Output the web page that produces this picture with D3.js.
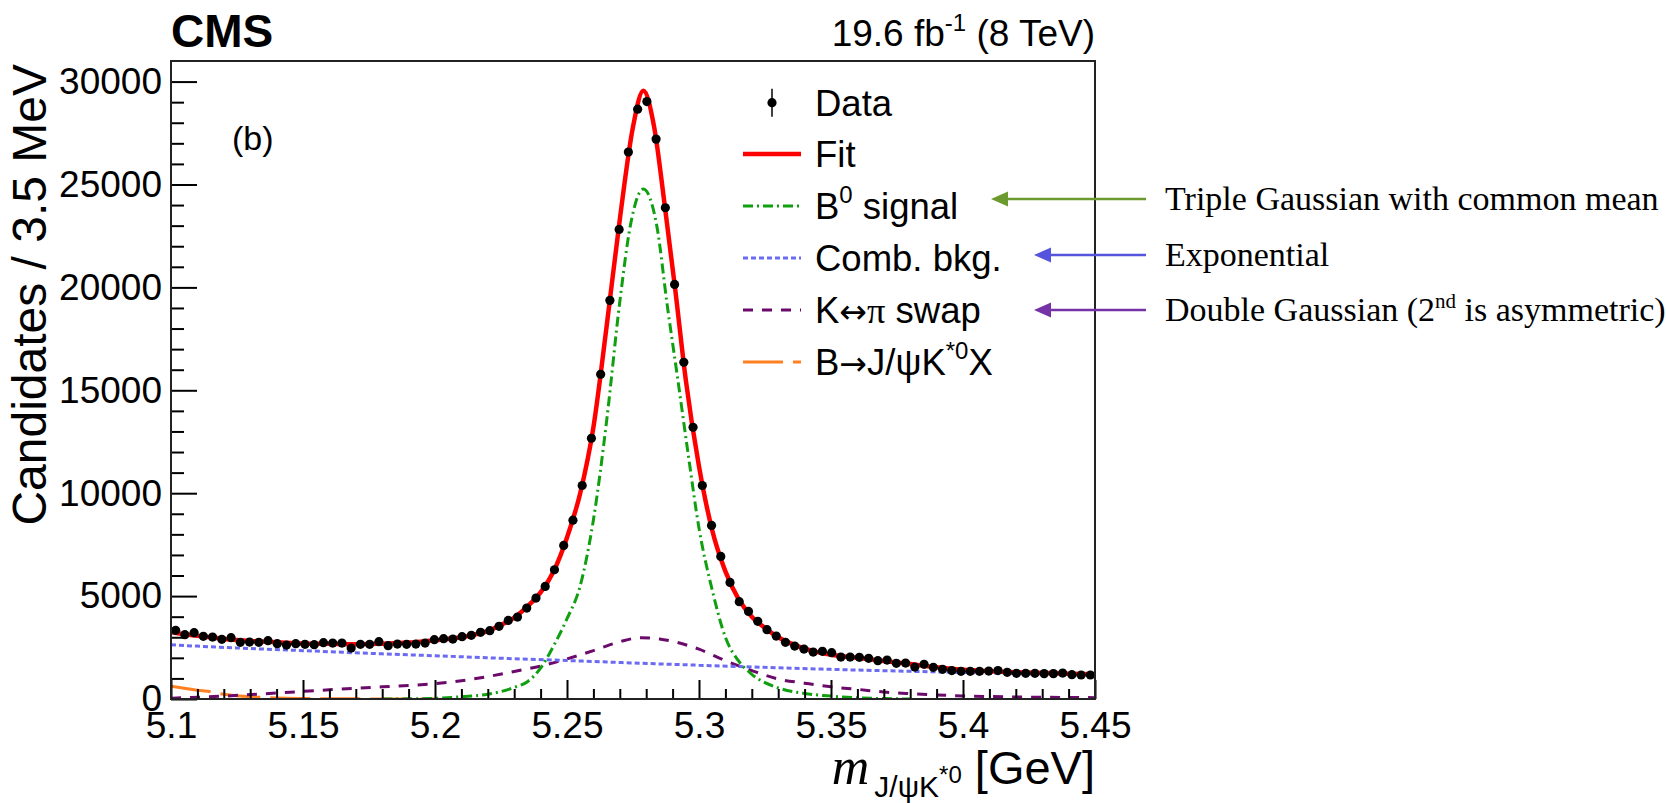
<!DOCTYPE html>
<html><head><meta charset="utf-8">
<script src="https://cdn.jsdelivr.net/npm/d3@7"></script>
<style>
body{margin:0;background:#fff}
svg{display:block}
</style></head>
<body><svg id="chart" width="1666" height="803" font-family="Liberation Sans, Arial, Helvetica, sans-serif"></svg>
<script>
// ---------------- data ----------------
const binLow = 5.1, binWidth = 0.0035;
const counts = [3335,3126,3223,3044,3010,2898,2981,2752,2767,2752,
  2835,2689,2621,2689,2655,2641,2738,2718,2718,2476,
  2655,2655,2786,2592,2670,2655,2670,2718,2883,2932,
  2913,3029,3092,3238,3320,3529,3820,3981,4417,4903,
  5471,6281,7461,8690,10374,12670,15777,19369,22816,26573,
  28660,29029,27204,23869,20146,16359,13204,10374,8432,6927,
  5665,4728,4257,3772,3369,3058,2752,2573,2427,2282,
  2316,2252,2039,2039,2024,1976,1864,1893,1733,1748,
  1553,1684,1539,1442,1379,1345,1345,1345,1359,1379,
  1296,1248,1248,1248,1233,1233,1262,1184,1165,1165];

const fitX = [5.100,5.110,5.120,5.130,5.140,5.150,5.160,5.170,5.180,5.190,5.200,5.210,5.215,5.220,5.225,5.230,5.235,5.240,5.245,5.250,5.255,5.260,5.265,5.270,5.275,5.2789,5.283,5.287,5.291,5.295,5.300,5.305,5.310,5.315,5.320,5.325,5.330,5.340,5.350,5.360,5.370,5.380,5.390,5.400,5.410,5.420,5.430,5.440,5.450];
const fitY = [3250,3070,2920,2820,2760,2700,2680,2660,2690,2740,2860,3000,3130,3300,3600,3950,4500,5180,6220,7850,10000,13200,18100,23300,27800,29550,27800,24000,19900,15500,11300,8200,6200,4850,4000,3450,3000,2450,2150,2000,1850,1700,1540,1420,1350,1300,1260,1230,1200];

const sigX = [5.180,5.190,5.200,5.210,5.220,5.230,5.235,5.240,5.245,5.250,5.255,5.260,5.265,5.270,5.274,5.2789,5.284,5.288,5.292,5.296,5.300,5.305,5.310,5.315,5.320,5.330,5.340,5.350,5.360,5.370,5.380];
const sigY = [0,8,35,110,230,560,840,1500,2600,3900,5500,8700,13500,19300,23000,24775,23000,19100,15500,11800,8300,5300,3000,1850,1200,540,270,140,60,20,0];

const bkgX = [5.100,5.125,5.150,5.175,5.200,5.225,5.250,5.275,5.300,5.325,5.350,5.375,5.400,5.425,5.450];
const bkgY = [2630,2480,2350,2220,2100,1980,1870,1750,1640,1540,1440,1360,1290,1220,1170];

const swapX = [5.100,5.120,5.140,5.160,5.180,5.200,5.210,5.220,5.230,5.240,5.250,5.260,5.270,5.278,5.285,5.290,5.300,5.310,5.320,5.330,5.340,5.350,5.360,5.370,5.380,5.400,5.420,5.450];
const swapY = [40,140,290,450,590,750,890,1090,1340,1600,1950,2350,2780,2980,2920,2800,2420,1860,1380,970,770,590,470,340,260,150,100,65];

const partX = [5.100,5.105,5.110,5.115,5.120,5.130,5.140,5.150,5.160,5.180,5.200];
const partY = [620,520,430,350,230,110,50,25,12,4,0];

const xMajor = [5.1,5.15,5.2,5.25,5.3,5.35,5.4,5.45];
const xMajorLabels = ["5.1","5.15","5.2","5.25","5.3","5.35","5.4","5.45"];
const xMinor = [5.11,5.12,5.13,5.14,5.16,5.17,5.18,5.19,5.21,5.22,5.23,5.24,5.26,5.27,5.28,5.29,5.31,5.32,5.33,5.34,5.36,5.37,5.38,5.39,5.41,5.42,5.43,5.44];
const yMajor = [0,5000,10000,15000,20000,25000,30000];
const yMajorLabels = ["0","5000","10000","15000","20000","25000","30000"];
const yMinor = [1000,2000,3000,4000,6000,7000,8000,9000,11000,12000,13000,14000,16000,17000,18000,19000,21000,22000,23000,24000,26000,27000,28000,29000];

// ---------------- layout ----------------
const SANS = "Liberation Sans, Arial, Helvetica, sans-serif";
const SERIF = "Liberation Serif, 'Times New Roman', serif";
const ARROWF = "DejaVu Sans, sans-serif";
const L = 171, R = 1095, T = 61, B = 699;
const svg = d3.select("#chart");
const x = d3.scaleLinear().domain([5.1, 5.45]).range([L, R]);
const y = d3.scaleLinear().domain([0, 31000]).range([B, T]);

svg.append("defs").append("clipPath").attr("id","clip")
  .append("rect").attr("x",L).attr("y",T).attr("width",R-L).attr("height",B-T);

const plot = svg.append("g").attr("clip-path","url(#clip)");
const mk = (xs, ys) => xs.map((v,i)=>[v, ys[i]]);
const line = d3.line().x(d=>x(d[0])).y(d=>y(d[1])).curve(d3.curveMonotoneX);

const C = {fit:"#ff0000", sig:"#0f9f0f", bkg:"#6a6af2", swap:"#6b0a6b", part:"#ff8020"};

plot.append("path").attr("d", line(mk(partX,partY))).attr("fill","none")
  .attr("stroke",C.part).attr("stroke-width",3).attr("stroke-dasharray","40,10");
plot.append("path").attr("d", line(mk(swapX,swapY))).attr("fill","none")
  .attr("stroke",C.swap).attr("stroke-width",3).attr("stroke-dasharray","10,9");
plot.append("path").attr("d", line(mk(bkgX,bkgY))).attr("fill","none")
  .attr("stroke",C.bkg).attr("stroke-width",3).attr("stroke-dasharray","5,3");
plot.append("path").attr("d", line(mk(sigX,sigY))).attr("fill","none")
  .attr("stroke",C.sig).attr("stroke-width",3).attr("stroke-dasharray","10,4,2,4");
plot.append("path").attr("d", line(mk(fitX,fitY))).attr("fill","none")
  .attr("stroke",C.fit).attr("stroke-width",4.5);

// data points
const pts = counts.map((c,i)=>({m: binLow + binWidth*(i+0.5), n: c}));
plot.selectAll("line.err").data(pts).enter().append("line").attr("class","err")
  .attr("x1",d=>x(d.m)).attr("x2",d=>x(d.m))
  .attr("y1",d=>y(d.n+Math.sqrt(d.n))).attr("y2",d=>y(d.n-Math.sqrt(d.n)))
  .attr("stroke","#000").attr("stroke-width",1.5);
plot.selectAll("circle.pt").data(pts).enter().append("circle").attr("class","pt")
  .attr("cx",d=>x(d.m)).attr("cy",d=>y(d.n)).attr("r",4.6).attr("fill","#000");

// axes
const fs = 37;
svg.append("g").attr("transform",`translate(0,${B})`)
  .call(d3.axisBottom(x).tickValues(xMajor).tickSize(-19).tickPadding(13)
    .tickFormat((d,i)=>xMajorLabels[i]));
svg.append("g").attr("transform",`translate(0,${B})`)
  .call(d3.axisBottom(x).tickValues(xMinor).tickSize(-10).tickFormat(""));
svg.append("g").attr("transform",`translate(${L},0)`)
  .call(d3.axisLeft(y).tickValues(yMajor).tickSize(-26).tickPadding(9)
    .tickFormat((d,i)=>yMajorLabels[i]));
svg.append("g").attr("transform",`translate(${L},0)`)
  .call(d3.axisLeft(y).tickValues(yMinor).tickSize(-13).tickFormat(""));
svg.selectAll(".domain").remove();
svg.selectAll(".tick line").attr("stroke","#000").attr("stroke-width",2);
svg.selectAll(".tick text").attr("font-size",fs).attr("font-family",SANS).attr("fill","#000");

// frame
svg.append("rect").attr("x",L).attr("y",T).attr("width",R-L).attr("height",B-T)
  .attr("fill","none").attr("stroke","#222").attr("stroke-width",2);

// titles
svg.append("text").attr("x",L).attr("y",47).attr("font-size",46).attr("font-weight","bold").text("CMS");
const lumi = svg.append("text").attr("x",R).attr("y",46).attr("text-anchor","end").attr("font-size",37);
lumi.append("tspan").text("19.6 fb");
lumi.append("tspan").attr("font-size",24).attr("dy",-15).text("-1");
lumi.append("tspan").attr("dy",15).text(" (8 TeV)");

svg.append("text").attr("transform","translate(46,64) rotate(-90)").attr("text-anchor","end")
  .attr("font-size",48).text("Candidates / 3.5 MeV");

const xt = svg.append("text").attr("x",R).attr("y",784).attr("text-anchor","end");
xt.append("tspan").attr("font-family",SERIF).attr("font-style","italic").attr("font-size",52).text("m");
xt.append("tspan").attr("font-size",30).attr("dx",5).attr("dy",13).text("J/\u03c8K");
xt.append("tspan").attr("font-size",24).attr("dy",-14).text("*0");
xt.append("tspan").attr("font-size",47).attr("dy",1).text(" [GeV]");

svg.append("text").attr("x",232).attr("y",150).attr("font-size",34).text("(b)");

// legend
const lgX1 = 743, lgX2 = 801, lgT = 815;
const rows = [102.7,154,206,258,310,362];
svg.append("line").attr("x1",(lgX1+lgX2)/2).attr("x2",(lgX1+lgX2)/2).attr("y1",rows[0]-14).attr("y2",rows[0]+14)
  .attr("stroke","#000").attr("stroke-width",1.5);
svg.append("circle").attr("cx",(lgX1+lgX2)/2).attr("cy",rows[0]).attr("r",4.6).attr("fill","#000");
const lgStyles = [
  null,
  {c:C.fit, w:4.5, d:null},
  {c:C.sig, w:3, d:"10,4,2,4"},
  {c:C.bkg, w:3, d:"5,3"},
  {c:C.swap, w:3, d:"10,9"},
  {c:C.part, w:3, d:"40,10"}];
lgStyles.forEach((s,i)=>{
  if(!s) return;
  const l = svg.append("line").attr("x1",lgX1).attr("x2",lgX2).attr("y1",rows[i]).attr("y2",rows[i])
    .attr("stroke",s.c).attr("stroke-width",s.w);
  if(s.d) l.attr("stroke-dasharray",s.d);
});
const lfs = 36.5;
const lt = (i)=> svg.append("text").attr("x",lgT).attr("y",rows[i]+13).attr("font-size",lfs);
lt(0).text("Data");
lt(1).text("Fit");
{ const t = lt(2); t.append("tspan").text("B"); t.append("tspan").attr("font-size",24).attr("dy",-16).text("0");
  t.append("tspan").attr("dy",16).text(" signal"); }
lt(3).text("Comb. bkg.");
{ const t = lt(4); t.append("tspan").text("K");
  t.append("tspan").attr("font-family",ARROWF).attr("font-size",33).text("\u2194");
  t.append("tspan").attr("font-family",SERIF).text("\u03c0");
  t.append("tspan").text(" swap"); }
{ const t = lt(5); t.append("tspan").text("B");
  t.append("tspan").attr("font-family",ARROWF).attr("font-size",33).text("\u2192");
  t.append("tspan").text("J/\u03c8K"); t.append("tspan").attr("font-size",24).attr("dy",-16).text("*0");
  t.append("tspan").attr("dy",16).text("X"); }

// annotations
const notes = [
  {y:199, tip:991, c:"#6c9a2e", t:["Triple Gaussian with common mean"]},
  {y:255, tip:1034, c:"#5454dc", t:["Exponential"]},
  {y:310, tip:1034, c:"#7432a6", t:["Double Gaussian (2","nd"," is asymmetric)"]}];
notes.forEach(n=>{
  svg.append("line").attr("x1",n.tip+12).attr("x2",1146).attr("y1",n.y).attr("y2",n.y)
    .attr("stroke",n.c).attr("stroke-width",2.5);
  svg.append("path").attr("d",`M${n.tip},${n.y} L${n.tip+17},${n.y-7.5} L${n.tip+17},${n.y+7.5} Z`).attr("fill",n.c);
  const t = svg.append("text").attr("x",1165).attr("y",n.y+11).attr("font-size",34)
    .attr("font-family",SERIF);
  t.append("tspan").text(n.t[0]);
  if(n.t.length>1){
    t.append("tspan").attr("font-size",21).attr("dy",-13).text(n.t[1]);
    t.append("tspan").attr("dy",13).text(n.t[2]);
  }
});
</script></body></html>
